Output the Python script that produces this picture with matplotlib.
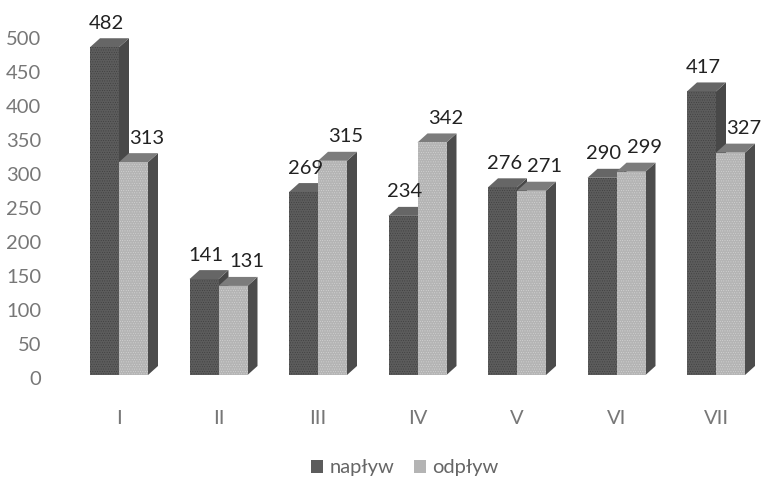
import matplotlib
matplotlib.use('Agg')
import matplotlib.pyplot as plt
from matplotlib.patches import Polygon, Patch

plt.rcParams['font.family'] = ['Lato', 'Open Sans', 'DejaVu Sans']
plt.rcParams['hatch.linewidth'] = 0.3

months = ['I', 'II', 'III', 'IV', 'V', 'VI', 'VII']
naplyw = [482, 141, 269, 234, 276, 290, 417]
odplyw = [313, 131, 315, 342, 271, 299, 327]
yticks = [0, 50, 100, 150, 200, 250, 300, 350, 400, 450, 500]

W, H = 763, 480
left_px, right_px = 48, 763
top_px, bottom_px = 0, 392
zero_px = 378
px_per_unit = 0.68
step_px = 99.5
center0_px = 119
bar_px = 29
depth_x_px = 10
depth_y_px = 9
lift_px = 3

fig = plt.figure(figsize=(W / 100, H / 100), dpi=100)
ax = fig.add_axes([left_px / W, 1 - bottom_px / H, (right_px - left_px) / W, (bottom_px - top_px) / H])
ax.set_xlim((left_px - center0_px) / step_px, (right_px - center0_px) / step_px)
ax.set_ylim((zero_px - bottom_px) / px_per_unit, (zero_px - top_px) / px_per_unit)
for s in ax.spines.values():
    s.set_visible(False)

width = bar_px / step_px
dx = depth_x_px / step_px
dy = depth_y_px / px_per_unit
lift = lift_px / px_per_unit


def bar3d(x, v, front, top, side, hatch_col, z):
    # front face is a real bar, the top and right faces are offset polygons
    l, r = x - width / 2, x + width / 2
    b, t = lift, lift + v
    ax.add_patch(Polygon([(r, b), (r + dx, b + dy), (r + dx, t + dy), (r, t)], fc=side, ec='none', zorder=z))
    ax.add_patch(Polygon([(l, t), (l + dx, t + dy), (r + dx, t + dy), (r, t)], fc=top, ec='none', zorder=z))
    ax.bar(x, v, width, bottom=lift, color=front, edgecolor=hatch_col, hatch='.......', linewidth=0, zorder=z + 0.1)


for i in range(len(months)):
    bar3d(i - width / 2, naplyw[i], '#5c5c5c', '#666666', '#484848', '#3a3a3a', 2)
    bar3d(i + width / 2, odplyw[i], '#b4b4b4', '#7c7c7c', '#4c4c4c', '#d8d8d8', 3)
    ax.annotate(str(naplyw[i]), (i - width / 2, naplyw[i] + lift), xytext=(2 * 0.72, 24 * 0.72),
                textcoords='offset points', ha='center', va='center', fontsize=14.5, color='#222222', zorder=5)
    ax.annotate(str(odplyw[i]), (i + width / 2, odplyw[i] + lift), xytext=(13.5 * 0.72, 24 * 0.72),
                textcoords='offset points', ha='center', va='center', fontsize=14.5, color='#222222', zorder=5)

ax.set_yticks(yticks)
ax.set_xticks(range(len(months)))
ax.set_xticklabels(months)
ax.tick_params(axis='both', length=0, labelsize=14.5, labelcolor='#777777')
ax.tick_params(axis='y', pad=5)
ax.tick_params(axis='x', pad=13)

handles = [Patch(fc='#5c5c5c', label='napływ'), Patch(fc='#b4b4b4', label='odpływ')]
fig.legend(handles=handles, loc='center', bbox_to_anchor=(405 / W, 1 - 468 / H), ncol=2, frameon=False,
           fontsize=14.5, labelcolor='#666666', handlelength=0.6, handleheight=0.6, handletextpad=0.3, columnspacing=1.0)

fig.savefig('out.png', dpi=100)
